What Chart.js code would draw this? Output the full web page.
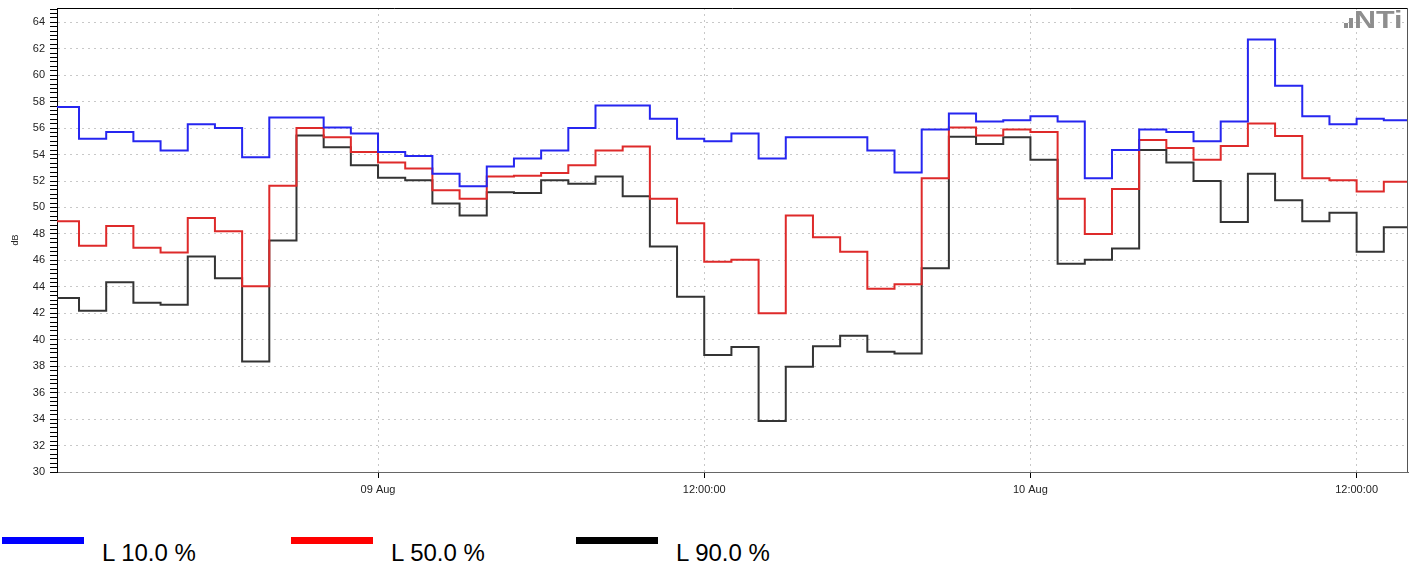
<!DOCTYPE html>
<html>
<head>
<meta charset="utf-8">
<script src="https://cdn.jsdelivr.net/npm/chart.js@4.4.1/dist/chart.umd.min.js"></script>
<style>
  body { margin: 0; background: #fff; font-family: "Liberation Sans", Arial, sans-serif; }
  #wrap { position: relative; width: 1416px; height: 566px; overflow: hidden; }
  #box { position: absolute; left: 0; top: 0; width: 1416px; height: 500px; }
  .logo { position: absolute; left: 1343px; top: 9px; height: 22px; color: #8e8e8e; }
  .logo .sq { position: absolute; left: 1px; top: 14px; width: 4px; height: 5px; background: #8e8e8e; }
  .logo .bar { position: absolute; left: 6px; top: 9px; width: 4px; height: 10px; background: #8e8e8e; }
  .logo .txt { position: absolute; left: 11px; top: 0; font: bold 24px "Liberation Sans", Arial, sans-serif;
               transform: scaleX(1.27); transform-origin: left top; line-height: 22px; }
  .leg-line { position: absolute; top: 537px; width: 82px; height: 7px; }
  .leg-text { position: absolute; top: 539px; font-size: 24px; line-height: 28px; color: #000; white-space: nowrap; }
</style>
</head>
<body>
<div id="wrap">
  <div id="box"><canvas id="levelChart"></canvas></div>
  <div class="logo"><span class="sq"></span><span class="bar"></span><span class="txt">NTi</span></div>
  <div id="legend"></div>
</div>
<script>
// interval start times, hours since 08 Aug 00:00
const startTimes = [12.19, 13, 14, 15, 16, 17, 18, 19, 20, 21, 22, 23, 24, 25, 26, 27, 28, 29, 30,
  31, 32, 33, 34, 35, 36, 37, 38, 39, 40, 41, 42, 43, 44, 45, 46, 47, 48, 49, 50, 51, 52, 53,
  54, 55, 56, 57, 58, 59, 60, 61];
const endTime = 61.89;

const l10 = [57.6, 55.2, 55.7, 55.0, 54.3, 56.3, 56.0, 53.8, 56.8, 56.8, 56.05, 55.6, 54.2, 53.9,
  52.55, 51.6, 53.1, 53.7, 54.3, 56.0, 57.7, 57.7, 56.7, 55.2, 55.0, 55.6, 53.7, 55.3, 55.3, 55.3,
  54.3, 52.65, 55.9, 57.1, 56.5, 56.6, 56.9, 56.5, 52.2, 54.35, 55.9, 55.7, 55.0, 56.5, 62.7, 59.2,
  56.9, 56.3, 56.7, 56.6];
const l50 = [48.95, 47.1, 48.6, 46.95, 46.6, 49.2, 48.2, 44.05, 51.65, 56.0, 55.3, 54.2, 53.4, 52.95,
  51.3, 50.65, 52.35, 52.4, 52.6, 53.2, 54.3, 54.6, 50.65, 48.8, 45.9, 46.05, 42.0, 49.4, 47.75, 46.65,
  43.85, 44.2, 52.2, 56.05, 55.45, 55.9, 55.7, 50.65, 48.0, 51.4, 55.1, 54.5, 53.6, 54.65, 56.35, 55.4,
  52.2, 52.05, 51.2, 51.95];
const l90 = [43.15, 42.2, 44.35, 42.8, 42.65, 46.3, 44.65, 38.35, 47.5, 55.45, 54.55, 53.2, 52.25, 52.05,
  50.3, 49.4, 51.15, 51.1, 52.05, 51.8, 52.35, 50.85, 47.05, 43.25, 38.85, 39.45, 33.85, 37.95, 39.5, 40.3,
  39.1, 38.95, 45.4, 55.35, 54.8, 55.3, 53.6, 45.75, 46.05, 46.9, 54.35, 53.4, 52.0, 48.9, 52.55, 50.55,
  48.95, 49.6, 46.65, 48.5];

const seriesNames = ["L 10.0 %", "L 50.0 %", "L 90.0 %"];
const lineColors = ["#2626f0", "#de2a2a", "#343434"];
const legendColors = ["#0000ff", "#ff0000", "#000000"];
const legendLeft = [2, 291, 576];

const xTickValues = [24, 36, 48, 60];
const xTickLabels = ["09 Aug", "12:00:00", "10 Aug", "12:00:00"];
const yMin = 30, yMax = 65.08, yMajor = 2, yMinorPerMajor = 6;

function toPoints(values) {
  const pts = values.map((v, i) => ({ x: startTimes[i], y: v }));
  pts.push({ x: endTime, y: values[values.length - 1] });
  return pts;
}

function isMajor(v) {
  return Math.abs(v / yMajor - Math.round(v / yMajor)) < 1e-6;
}

const framePlugin = {
  id: "frame",
  afterDraw(chart) {
    const { ctx, chartArea: a } = chart;
    ctx.save();
    ctx.lineWidth = 1;
    ctx.strokeStyle = "#000";
    ctx.beginPath();
    ctx.moveTo(a.left, a.top + 0.5);
    ctx.lineTo(a.right, a.top + 0.5);
    ctx.stroke();
    ctx.strokeStyle = "#555";
    ctx.beginPath();
    ctx.moveTo(a.right - 0.5, a.top);
    ctx.lineTo(a.right - 0.5, a.bottom);
    ctx.stroke();
    ctx.restore();
  }
};

Chart.defaults.font.family = '"Liberation Sans", Arial, sans-serif';
Chart.defaults.font.size = 11;
Chart.defaults.color = "#222";

const series = [l10, l50, l90];
const datasets = series.map((vals, i) => ({
  label: seriesNames[i],
  data: toPoints(vals),
  borderColor: lineColors[i],
  borderWidth: 2,
  pointRadius: 0,
  stepped: "before",
  fill: false
}));

new Chart(document.getElementById("levelChart"), {
  type: "line",
  data: { datasets },
  plugins: [framePlugin],
  options: {
    responsive: true,
    maintainAspectRatio: false,
    animation: false,
    layout: { padding: { top: 8, right: 8, left: 0, bottom: 0 } },
    plugins: { legend: { display: false }, tooltip: { enabled: false } },
    scales: {
      x: {
        type: "linear",
        min: startTimes[0],
        max: endTime,
        afterBuildTicks: scale => { scale.ticks = xTickValues.map(v => ({ value: v })); },
        afterFit: scale => { scale.height = 28; },
        ticks: {
          autoSkip: false,
          maxRotation: 0,
          padding: 5,
          callback: v => xTickLabels[xTickValues.indexOf(v)]
        },
        grid: { color: "#c8c8c8", tickColor: "#000", tickLength: 6 },
        border: { color: "#666", dash: [2, 4] }
      },
      y: {
        min: yMin,
        max: yMax,
        afterBuildTicks: scale => {
          const t = [];
          for (let k = yMin * yMinorPerMajor / yMajor; k <= 65 * yMinorPerMajor / yMajor; k++) {
            t.push({ value: k * yMajor / yMinorPerMajor });
          }
          scale.ticks = t;
        },
        afterFit: scale => { scale.width = 57; scale.paddingTop = 0; },
        ticks: {
          autoSkip: false,
          padding: 5,
          callback: v => (isMajor(v) ? String(Math.round(v)) : "")
        },
        grid: {
          color: c => (c.tick && isMajor(c.tick.value) ? "#c8c8c8" : "rgba(0,0,0,0)"),
          tickColor: "#000",
          tickLength: 7
        },
        border: { color: "#000", dash: [2, 4] },
        title: { display: true, text: "dB", font: { size: 9 }, padding: { top: 10, bottom: 0 } }
      }
    }
  }
});

const legend = document.getElementById("legend");
seriesNames.forEach((name, i) => {
  const line = document.createElement("div");
  line.className = "leg-line";
  line.style.left = legendLeft[i] + "px";
  line.style.background = legendColors[i];
  const txt = document.createElement("div");
  txt.className = "leg-text";
  txt.style.left = (legendLeft[i] + 100) + "px";
  txt.textContent = name;
  legend.appendChild(line);
  legend.appendChild(txt);
});
</script>
</body>
</html>
